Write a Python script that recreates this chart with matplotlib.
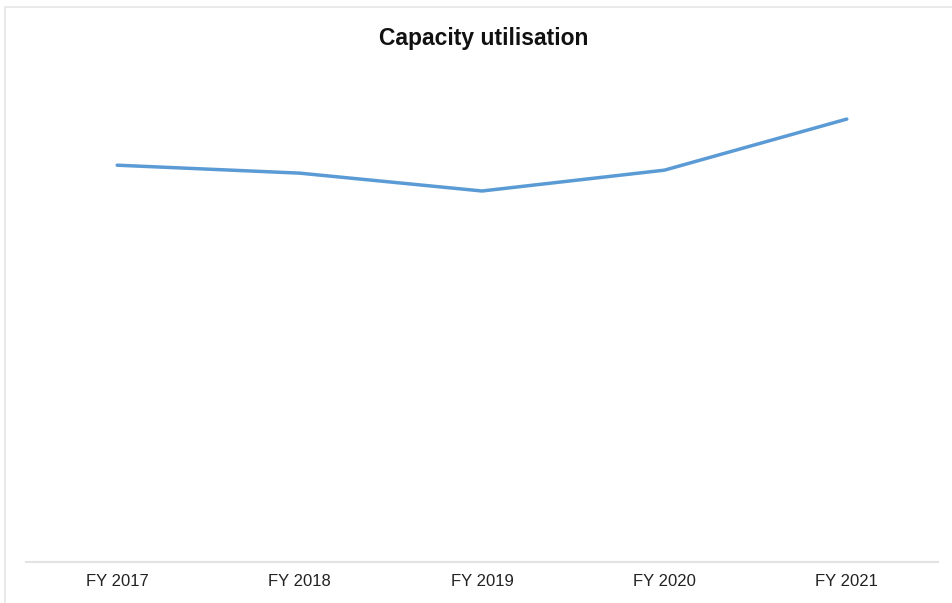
import matplotlib
matplotlib.use("Agg")
import matplotlib.pyplot as plt
from matplotlib.patches import Rectangle

years = ["FY 2017", "FY 2018", "FY 2019", "FY 2020", "FY 2021"]
utilisation = [80.0, 78.4, 74.8, 79.0, 89.3]

plt.rcParams['font.family'] = ['Liberation Sans', 'DejaVu Sans']

W, H = 953, 603
fig = plt.figure(figsize=(W / 100, H / 100), dpi=100)

# light outer frame
fig.patches.append(Rectangle((5 / W, -0.05), 1.2, (H - 7) / H + 0.05,
                             transform=fig.transFigure, fill=False,
                             edgecolor='#e6e6e6', linewidth=1.2))

ax = fig.add_axes([26 / W, (H - 562) / H, (938 - 26) / W, (562 - 66) / H])
x = range(len(years))
ax.plot(x, utilisation, color='#5b9bd5', linewidth=2.5, solid_capstyle='round')

ax.set_xlim(-0.5, len(years) - 0.5)
ax.set_ylim(0, 100)
ax.set_xticks(list(x))
ax.set_xticklabels(years, fontsize=12, color='#222222')
ax.tick_params(axis='x', length=0, pad=9)
ax.set_yticks([])
for s in ['top', 'right', 'left']:
    ax.spines[s].set_visible(False)
ax.spines['bottom'].set_color('#e3e3e3')
ax.spines['bottom'].set_linewidth(1.5)

fig.text(484 / W, 1 - 38.5 / H, "Capacity utilisation", ha='center', va='center',
         fontsize=16.5, fontweight='bold', color='#111111')

fig.savefig("out.png", dpi=100)
